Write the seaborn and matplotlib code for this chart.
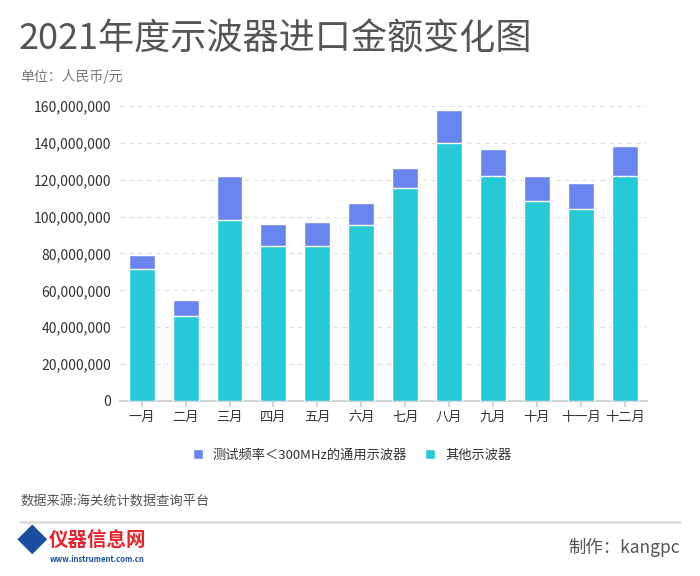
import numpy as np
import pandas as pd
import seaborn as sns
import matplotlib.pyplot as plt
from matplotlib.ticker import FuncFormatter
from matplotlib.lines import Line2D

months = ['一月', '二月', '三月', '四月', '五月', '六月',
          '七月', '八月', '九月', '十月', '十一月', '十二月']
# 单位: 百万元
low_freq = [7.9, 8.3, 23.9, 11.6, 13.0, 12.0, 11.2, 17.9, 14.3, 13.2, 14.1, 16.3]
others = [71.5, 46.3, 97.9, 84.3, 84.3, 95.3, 115.4, 139.8, 122.1, 108.7, 104.0, 121.9]

series_low = '测试频率＜300MHz的通用示波器'
series_other = '其他示波器'
c_low = '#6a84f0'
c_other = '#26c9d6'

df = pd.DataFrame({
    'month': months,
    'other': np.array(others) * 1e6,
    'total': (np.array(others) + np.array(low_freq)) * 1e6,
})

sns.set_theme(style='white')
plt.rcParams['font.family'] = ['Noto Sans CJK SC', 'DejaVu Sans']

fig = plt.figure(figsize=(7, 5.76), dpi=100)
ax = fig.add_axes([0.171, 0.304, 0.753, 0.512])

sns.barplot(data=df, x='month', y='total', color=c_low, width=0.59,
            saturation=1, ax=ax, zorder=3)
sns.barplot(data=df, x='month', y='other', color=c_other, width=0.59,
            saturation=1, ax=ax, zorder=4)

ax.set_ylim(0, 160e6)
ax.set_yticks(np.arange(0, 160e6 + 1, 20e6))
ax.yaxis.set_major_formatter(FuncFormatter(lambda v, p: f'{int(v):,}'))
ax.grid(axis='y', color='#dddddd', linestyle=(0, (4, 4)), linewidth=0.8, zorder=0)
ax.set_xlabel('')
ax.set_ylabel('')
for s in ['top', 'right', 'left']:
    ax.spines[s].set_visible(False)
ax.spines['bottom'].set_color('#cccccc')
ax.spines['bottom'].set_linewidth(1.2)
ax.tick_params(axis='y', length=0, labelsize=10, labelcolor='#333333', pad=6)
ax.tick_params(axis='x', bottom=True, length=4, color='#cccccc', labelsize=9.5,
               labelcolor='#333333', pad=3)
ax.set_xlim(-0.5, len(months) - 0.5)

handles = [Line2D([0], [0], marker='s', color='w', markerfacecolor=c_low, markersize=7),
           Line2D([0], [0], marker='s', color='w', markerfacecolor=c_other, markersize=7)]
fig.legend(handles, [series_low, series_other], loc='center', bbox_to_anchor=(0.497, 0.21),
           ncol=2, frameon=False, fontsize=9.5, handletextpad=0.1, columnspacing=0.8,
           labelcolor='#333333')

fig.text(0.027, 0.932, '2021年度示波器进口金额变化图', fontsize=26, color='#555555',
         va='center')
fig.text(0.029, 0.868, '单位：人民币/元', fontsize=10, color='#777777', va='center')
fig.text(0.029, 0.13, '数据来源:海关统计数据查询平台', fontsize=9.5, color='#555555', va='center')
fig.add_artist(Line2D([0.029, 0.971], [0.094, 0.094], color='#dddddd', linewidth=2))

fig.text(0.045, 0.058, '◆', fontsize=22, color='#1a4fa0', va='center', ha='center')
fig.text(0.07, 0.06, '仪器信息网', fontsize=14, color='#e8242e', weight='bold', va='center')
fig.text(0.071, 0.028, 'www.instrument.com.cn', fontsize=5.5, color='#1a4fa0',
         weight='bold', style='italic', va='center')
fig.text(0.971, 0.05, '制作：kangpc', fontsize=12.5, color='#555555', va='center', ha='right')

fig.savefig('out.png', dpi=100, facecolor='white')
